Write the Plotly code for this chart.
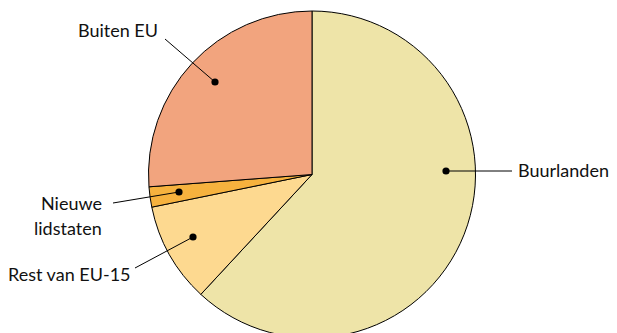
import plotly.graph_objects as go

categories = ["Buurlanden", "Rest van EU-15", "Nieuwe lidstaten", "Buiten EU"]
values = [61.9, 9.9, 2.0, 26.2]
colors = ["#EEE4A8", "#FDD990", "#F6B23E", "#F2A47E"]

W, H = 617, 333
MT, MB = 3, 3
OFF = 8  # page body margin offset

def px(x, y):
    xf, yf = x - OFF, y - OFF
    return xf / W, (H - MB - yf) / (H - MT - MB)

fig = go.Figure(go.Pie(
    labels=categories, values=values, sort=False, direction="clockwise",
    rotation=0, textinfo="none", hoverinfo="label+percent",
    marker=dict(colors=colors, line=dict(color="#000000", width=1)),
    showlegend=False,
    domain=dict(x=[0, 608 / W], y=[0, 1]),
))

FONT = dict(family="Lato", size=18, color="#111111")

leaders = [
    ((165, 39), (215, 82)),      # Buiten EU
    ((512, 171), (446, 171)),    # Buurlanden
    ((113, 203), (179, 192)),    # Nieuwe lidstaten
    ((135, 268), (193, 237)),    # Rest van EU-15
]
shapes = []
for (a, b) in leaders:
    x0, y0 = px(*a)
    x1, y1 = px(*b)
    shapes.append(dict(type="line", xref="paper", yref="paper", x0=x0, y0=y0, x1=x1, y1=y1,
                       line=dict(color="#000000", width=1)))
    r = 3.6
    cx0, cy0 = px(b[0] - r, b[1] + r)
    cx1, cy1 = px(b[0] + r, b[1] - r)
    shapes.append(dict(type="circle", xref="paper", yref="paper", x0=cx0, y0=cy0, x1=cx1, y1=cy1,
                       fillcolor="#000000", line=dict(color="#000000", width=0)))

annotations = []
def ann(text, x, y, xanchor):
    xp, yp = px(x, y)
    annotations.append(dict(text=text, x=xp, y=yp, xref="paper", yref="paper", xanchor=xanchor,
                            yanchor="middle", showarrow=False, font=FONT))

ann("Buiten EU", 117.5, 30, "center")
ann("Buurlanden", 515.5, 170, "left")
ann("Nieuwe", 104, 202.5, "right")
ann("lidstaten", 104, 227.5, "right")
ann("Rest van EU-15", 132.5, 274, "right")

fig.update_layout(
    width=W, height=H, margin=dict(l=0, r=0, t=MT, b=MB),
    paper_bgcolor="white", plot_bgcolor="white",
    shapes=shapes, annotations=annotations,
)
fig.write_html("out.html")
